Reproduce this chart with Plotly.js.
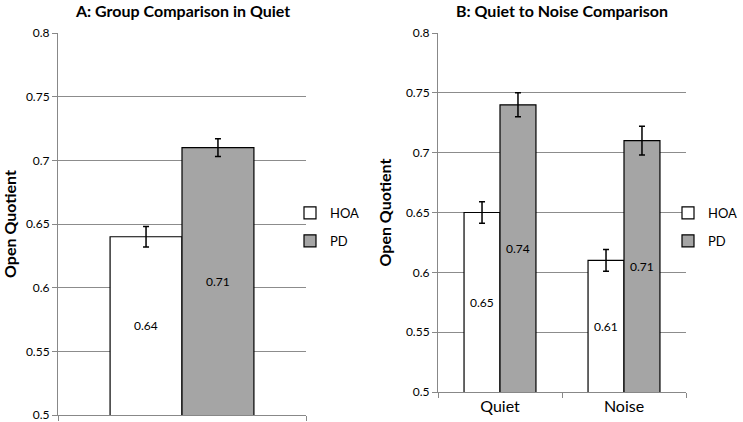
<!DOCTYPE html>
<html>
<head>
<meta charset="utf-8">
<script src="https://cdn.plot.ly/plotly-3.0.1.min.js"></script>
<style>html,body{margin:0;padding:0;background:#fff;}#chart{width:743px;height:422px;}</style>
</head>
<body>
<div id="chart"></div>
<script>
// Panel A: group comparison in quiet
var catsA = [""];
var hoaA = [0.64];
var hoaAErr = [0.008];
var pdA = [0.71];
var pdAErr = [0.007];

// Panel B: quiet to noise comparison
var catsB = ["Quiet", "Noise"];
var hoaB = [0.65, 0.61];
var hoaBErr = [0.009, 0.009];
var pdB = [0.74, 0.71];
var pdBErr = [0.010, 0.012];

var seriesNames = ["HOA", "PD"];
var yTicks = [0.5, 0.55, 0.6, 0.65, 0.7, 0.75, 0.8];
var yTickText = ["0.5", "0.55", "0.6", "0.65", "0.7", "0.75", "0.8"];
var yRange = [0.5, 0.8];

var FONT = "Lato, 'Open Sans', sans-serif";
var WHITE = "#ffffff", GRAY = "#a5a5a5";
var BARGAP = 0.42;

function barTrace(cats, vals, errs, name, color, xa, ya, leg, grp) {
  return {
    type: "bar", x: cats, y: vals, name: name,
    xaxis: xa, yaxis: ya, legend: leg, legendgroup: grp,
    marker: {color: color, line: {color: "#000", width: 1.2}},
    error_y: {type: "data", array: errs, visible: true, color: "#000", thickness: 1.5, width: 3},
    hoverinfo: "skip"
  };
}

var data = [
  barTrace(catsA, hoaA, hoaAErr, seriesNames[0], WHITE, "x", "y", "legend", "a1"),
  barTrace(catsA, pdA, pdAErr, seriesNames[1], GRAY, "x", "y", "legend", "a2"),
  barTrace(catsB, hoaB, hoaBErr, seriesNames[0], WHITE, "x2", "y2", "legend2", "b1"),
  barTrace(catsB, pdB, pdBErr, seriesNames[1], GRAY, "x2", "y2", "legend2", "b2")
];

// value labels centred in the visible part of each bar
var annotations = [];
function addLabels(vals, slot, xr, yr) {
  var bw = (1 - BARGAP) / 2;
  vals.forEach(function (v, i) {
    annotations.push({
      text: v.toFixed(2), xref: xr, yref: yr,
      x: i + (slot === 0 ? -bw / 2 : bw / 2), y: (yRange[0] + v) / 2,
      showarrow: false, xanchor: "center", yanchor: "middle",
      font: {family: FONT, size: 12, color: "#000"}
    });
  });
}
addLabels(hoaA, 0, "x", "y");
addLabels(pdA, 1, "x", "y");
addLabels(hoaB, 0, "x2", "y2");
addLabels(pdB, 1, "x2", "y2");

function yaxisDef(domain, anchor) {
  return {
    domain: domain, anchor: anchor, range: yRange, automargin: false,
    tickvals: yTicks, ticktext: yTickText, ticklabeloverflow: "allow",
    ticks: "outside", ticklen: 5, tickcolor: "#888", tickwidth: 1,
    showgrid: true, gridcolor: "#8c8c8c", gridwidth: 1,
    showline: true, linecolor: "#888", linewidth: 1,
    zeroline: false,
    tickfont: {family: FONT, size: 12, color: "#000"},
    title: {text: "<b>Open Quotient</b>", font: {family: FONT, size: 16, color: "#000"}, standoff: 10}
  };
}
function xaxisDef(domain, anchor, showLabels) {
  return {
    domain: domain, anchor: anchor, type: "category", automargin: false,
    tickson: "boundaries", ticks: "outside", ticklen: 5, tickcolor: "#888",
    showline: true, linecolor: "#888", linewidth: 1,
    showgrid: false, zeroline: false,
    showticklabels: showLabels,
    tickfont: {family: FONT, size: 16, color: "#000"}
  };
}

var W = 743, H = 422;
annotations.push(
  {text: "<b>A: Group Comparison in Quiet</b>", xref: "paper", yref: "paper",
    x: 182 / W, y: 1 - 11 / H, xanchor: "center", yanchor: "middle", showarrow: false,
    font: {family: FONT, size: 16, color: "#000"}},
  {text: "<b>B: Quiet to Noise Comparison</b>", xref: "paper", yref: "paper",
    x: 562 / W, y: 1 - 11 / H, xanchor: "center", yanchor: "middle", showarrow: false,
    font: {family: FONT, size: 16, color: "#000"}}
);

var legendCommon = {
  yanchor: "middle", xanchor: "left", y: 1 - 227 / H,
  font: {family: FONT, size: 13, color: "#000"}, traceorder: "grouped", tracegroupgap: 8,
  bgcolor: "rgba(0,0,0,0)", borderwidth: 0, itemwidth: 30
};

var layout = {
  width: W, height: H,
  margin: {l: 0, r: 0, t: 0, b: 0},
  paper_bgcolor: "#fff", plot_bgcolor: "#fff",
  showlegend: true,
  barmode: "group", bargap: BARGAP, bargroupgap: 0,
  xaxis: xaxisDef([58 / W, 306 / W], "y", false),
  yaxis: yaxisDef([(H - 415) / H, (H - 33) / H], "x"),
  xaxis2: xaxisDef([438 / W, 686 / W], "y2", true),
  yaxis2: yaxisDef([(H - 392) / H, (H - 33) / H], "x2"),
  legend: Object.assign({}, legendCommon, {x: 290 / W}),
  legend2: Object.assign({}, legendCommon, {x: 668 / W}),
  annotations: annotations
};

Plotly.newPlot("chart", data, layout, {displayModeBar: false, staticPlot: true});
</script>
</body>
</html>
